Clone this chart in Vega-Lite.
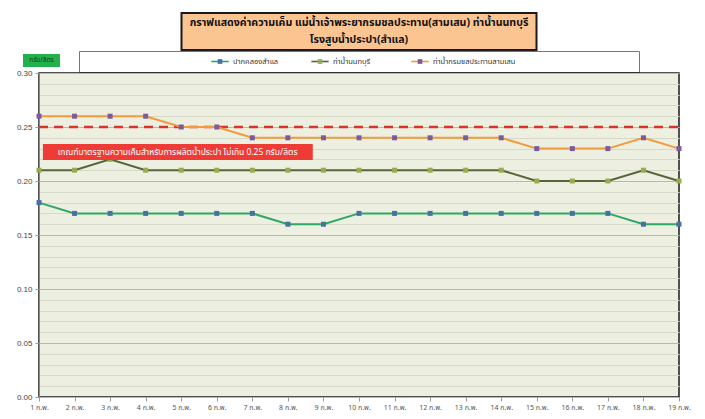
{
  "$schema": "https://vega.github.io/schema/vega-lite/v6.json",
  "background": "white",
  "padding": {"left": 15, "top": 12, "right": 5, "bottom": 5},
  "config": {
    "font": "Noto Sans Thai, Noto Sans Thai UI, Loma, Garuda, Norasi, Waree, Tlwg Typo, Sawasdee, Noto Sans, sans-serif",
    "concat": {"spacing": 1}
  },
  "datasets": {
    "main": [
      {"day": 1, "series": "ปากคลองสำแล", "v": 0.18},
      {"day": 2, "series": "ปากคลองสำแล", "v": 0.17},
      {"day": 3, "series": "ปากคลองสำแล", "v": 0.17},
      {"day": 4, "series": "ปากคลองสำแล", "v": 0.17},
      {"day": 5, "series": "ปากคลองสำแล", "v": 0.17},
      {"day": 6, "series": "ปากคลองสำแล", "v": 0.17},
      {"day": 7, "series": "ปากคลองสำแล", "v": 0.17},
      {"day": 8, "series": "ปากคลองสำแล", "v": 0.16},
      {"day": 9, "series": "ปากคลองสำแล", "v": 0.16},
      {"day": 10, "series": "ปากคลองสำแล", "v": 0.17},
      {"day": 11, "series": "ปากคลองสำแล", "v": 0.17},
      {"day": 12, "series": "ปากคลองสำแล", "v": 0.17},
      {"day": 13, "series": "ปากคลองสำแล", "v": 0.17},
      {"day": 14, "series": "ปากคลองสำแล", "v": 0.17},
      {"day": 15, "series": "ปากคลองสำแล", "v": 0.17},
      {"day": 16, "series": "ปากคลองสำแล", "v": 0.17},
      {"day": 17, "series": "ปากคลองสำแล", "v": 0.17},
      {"day": 18, "series": "ปากคลองสำแล", "v": 0.16},
      {"day": 19, "series": "ปากคลองสำแล", "v": 0.16},
      {"day": 1, "series": "ท่าน้ำนนทบุรี", "v": 0.21},
      {"day": 2, "series": "ท่าน้ำนนทบุรี", "v": 0.21},
      {"day": 3, "series": "ท่าน้ำนนทบุรี", "v": 0.22},
      {"day": 4, "series": "ท่าน้ำนนทบุรี", "v": 0.21},
      {"day": 5, "series": "ท่าน้ำนนทบุรี", "v": 0.21},
      {"day": 6, "series": "ท่าน้ำนนทบุรี", "v": 0.21},
      {"day": 7, "series": "ท่าน้ำนนทบุรี", "v": 0.21},
      {"day": 8, "series": "ท่าน้ำนนทบุรี", "v": 0.21},
      {"day": 9, "series": "ท่าน้ำนนทบุรี", "v": 0.21},
      {"day": 10, "series": "ท่าน้ำนนทบุรี", "v": 0.21},
      {"day": 11, "series": "ท่าน้ำนนทบุรี", "v": 0.21},
      {"day": 12, "series": "ท่าน้ำนนทบุรี", "v": 0.21},
      {"day": 13, "series": "ท่าน้ำนนทบุรี", "v": 0.21},
      {"day": 14, "series": "ท่าน้ำนนทบุรี", "v": 0.21},
      {"day": 15, "series": "ท่าน้ำนนทบุรี", "v": 0.20},
      {"day": 16, "series": "ท่าน้ำนนทบุรี", "v": 0.20},
      {"day": 17, "series": "ท่าน้ำนนทบุรี", "v": 0.20},
      {"day": 18, "series": "ท่าน้ำนนทบุรี", "v": 0.21},
      {"day": 19, "series": "ท่าน้ำนนทบุรี", "v": 0.20},
      {"day": 1, "series": "ท่าน้ำกรมชลประทานสามเสน", "v": 0.26},
      {"day": 2, "series": "ท่าน้ำกรมชลประทานสามเสน", "v": 0.26},
      {"day": 3, "series": "ท่าน้ำกรมชลประทานสามเสน", "v": 0.26},
      {"day": 4, "series": "ท่าน้ำกรมชลประทานสามเสน", "v": 0.26},
      {"day": 5, "series": "ท่าน้ำกรมชลประทานสามเสน", "v": 0.25},
      {"day": 6, "series": "ท่าน้ำกรมชลประทานสามเสน", "v": 0.25},
      {"day": 7, "series": "ท่าน้ำกรมชลประทานสามเสน", "v": 0.24},
      {"day": 8, "series": "ท่าน้ำกรมชลประทานสามเสน", "v": 0.24},
      {"day": 9, "series": "ท่าน้ำกรมชลประทานสามเสน", "v": 0.24},
      {"day": 10, "series": "ท่าน้ำกรมชลประทานสามเสน", "v": 0.24},
      {"day": 11, "series": "ท่าน้ำกรมชลประทานสามเสน", "v": 0.24},
      {"day": 12, "series": "ท่าน้ำกรมชลประทานสามเสน", "v": 0.24},
      {"day": 13, "series": "ท่าน้ำกรมชลประทานสามเสน", "v": 0.24},
      {"day": 14, "series": "ท่าน้ำกรมชลประทานสามเสน", "v": 0.24},
      {"day": 15, "series": "ท่าน้ำกรมชลประทานสามเสน", "v": 0.23},
      {"day": 16, "series": "ท่าน้ำกรมชลประทานสามเสน", "v": 0.23},
      {"day": 17, "series": "ท่าน้ำกรมชลประทานสามเสน", "v": 0.23},
      {"day": 18, "series": "ท่าน้ำกรมชลประทานสามเสน", "v": 0.24},
      {"day": 19, "series": "ท่าน้ำกรมชลประทานสามเสน", "v": 0.23}
    ],
    "legend": [
      {"series": "ปากคลองสำแล"},
      {"series": "ท่าน้ำนนทบุรี"},
      {"series": "ท่าน้ำกรมชลประทานสามเสน"}
    ],
    "title": [
      {"line": 1, "t": "กราฟแสดงค่าความเค็ม แม่น้ำเจ้าพระยากรมชลประทาน(สามเสน) ท่าน้ำนนทบุรี"},
      {"line": 2, "t": "โรงสูบน้ำประปา(สำแล)"}
    ]
  },
  "vconcat": [
    {
      "width": 355,
      "height": 37,
      "view": {"fill": "#fbc592", "stroke": "#1a1a1a", "strokeWidth": 2},
      "data": {"name": "title"},
      "mark": {"type": "text", "fontSize": 10.6, "fontWeight": "bold", "color": "#111", "baseline": "middle", "align": "center"},
      "encoding": {
        "y": {"field": "line", "type": "ordinal", "axis": null, "scale": {"type": "point", "padding": 0.62}},
        "text": {"field": "t", "type": "nominal"}
      }
    },
    {
      "width": 560,
      "height": 21,
      "view": {"fill": "white", "stroke": "#777", "strokeWidth": 1},
      "data": {"name": "legend"},
      "layer": [
        {
          "mark": {"type": "point", "shape": "M-1,0H1", "filled": false, "strokeWidth": 1.6, "size": 300, "opacity": 1},
          "encoding": {
            "x": {"field": "series", "type": "nominal", "sort": ["ปากคลองสำแล", "ท่าน้ำนนทบุรี", "ท่าน้ำกรมชลประทานสามเสน"], "scale": {"type": "point", "range": [91, 391]}, "axis": null},
            "stroke": {"field": "series", "type": "nominal", "scale": {"domain": ["ปากคลองสำแล", "ท่าน้ำนนทบุรี", "ท่าน้ำกรมชลประทานสามเสน"], "range": ["#2fa866", "#56663a", "#f39a3c"]}, "legend": null}
          }
        },
        {
          "mark": {"type": "point", "shape": "square", "filled": true, "size": 22, "opacity": 1},
          "encoding": {
            "x": {"field": "series", "type": "nominal", "sort": ["ปากคลองสำแล", "ท่าน้ำนนทบุรี", "ท่าน้ำกรมชลประทานสามเสน"], "scale": {"type": "point", "range": [91, 391]}, "axis": null},
            "fill": {"field": "series", "type": "nominal", "scale": {"domain": ["ปากคลองสำแล", "ท่าน้ำนนทบุรี", "ท่าน้ำกรมชลประทานสามเสน"], "range": ["#4a6fa5", "#93ad4f", "#7a5c9e"]}, "legend": null}
          }
        },
        {
          "mark": {"type": "text", "align": "left", "dx": 13, "fontSize": 7.5, "color": "#333", "baseline": "middle"},
          "encoding": {
            "x": {"field": "series", "type": "nominal", "sort": ["ปากคลองสำแล", "ท่าน้ำนนทบุรี", "ท่าน้ำกรมชลประทานสามเสน"], "scale": {"type": "point", "range": [91, 391]}, "axis": null},
            "text": {"field": "series", "type": "nominal"}
          }
        }
      ]
    },
    {
      "width": 640,
      "height": 324,
      "view": {"fill": "#edefe0", "stroke": "#1a1a1a", "strokeWidth": 1.5},
      "data": {"name": "main"},
      "encoding": {
        "x": {
          "field": "day", "type": "quantitative",
          "scale": {"domain": [1, 19], "nice": false, "zero": false},
          "axis": {
            "title": null, "values": [1,2,3,4,5,6,7,8,9,10,11,12,13,14,15,16,17,18,19],
            "labelExpr": "datum.value + ' ก.พ.'", "grid": false, "domain": false,
            "ticks": true, "tickSize": 4, "tickColor": "#999",
            "labelFontSize": 7, "labelColor": "#555", "labelPadding": 2, "labelFlush": false, "labelOverlap": false
          }
        },
        "y": {
          "field": "v", "type": "quantitative",
          "scale": {"domain": [0, 0.3], "nice": false, "zero": true},
          "axis": {
            "title": null,
            "values": [0,0.01,0.02,0.03,0.04,0.05,0.06,0.07,0.08,0.09,0.1,0.11,0.12,0.13,0.14,0.15,0.16,0.17,0.18,0.19,0.2,0.21,0.22,0.23,0.24,0.25,0.26,0.27,0.28,0.29,0.3],
            "labelExpr": "round(datum.value*100) % 5 == 0 ? format(datum.value, '.2f') : ''",
            "labelFontSize": 8, "labelColor": "#444", "labelPadding": 3, "labelFont": "Liberation Sans",
            "domain": true, "domainColor": "#888",
            "tickSize": 4,
            "tickColor": {"condition": {"test": "round(datum.value*100) % 5 == 0", "value": "#999"}, "value": "transparent"},
            "grid": true,
            "gridColor": {"condition": {"test": "round(datum.value*100) % 5 == 0", "value": "#b8bba9"}, "value": "#d6d9c8"},
            "gridWidth": 1, "gridOpacity": 1
          }
        }
      },
      "layer": [
        {
          "transform": [{"filter": "datum.day == 1 && datum.series == 'ปากคลองสำแล'"}],
          "mark": {"type": "rule", "strokeDash": [9, 6], "strokeWidth": 2.5, "color": "#d9342b"},
          "encoding": {"x": {"datum": 1}, "x2": {"datum": 19}, "y": {"datum": 0.25}}
        },
        {
          "mark": {"type": "line", "strokeWidth": 2},
          "encoding": {
            "detail": {"field": "series"},
            "stroke": {"field": "series", "type": "nominal", "scale": {"domain": ["ปากคลองสำแล", "ท่าน้ำนนทบุรี", "ท่าน้ำกรมชลประทานสามเสน"], "range": ["#2fa866", "#56663a", "#f39a3c"]}, "legend": null}
          }
        },
        {
          "mark": {"type": "point", "shape": "square", "filled": true, "size": 25, "opacity": 1},
          "encoding": {
            "fill": {"field": "series", "type": "nominal", "scale": {"domain": ["ปากคลองสำแล", "ท่าน้ำนนทบุรี", "ท่าน้ำกรมชลประทานสามเสน"], "range": ["#4a6fa5", "#93ad4f", "#7a5c9e"]}, "legend": null}
          }
        },
        {
          "transform": [{"filter": "datum.day == 1 && datum.series == 'ปากคลองสำแล'"}],
          "mark": {"type": "rect", "color": "#ee3b35"},
          "encoding": {"x": {"datum": 1.11}, "x2": {"datum": 8.7}, "y": {"datum": 0.2194}, "y2": {"datum": 0.2343}}
        },
        {
          "transform": [{"filter": "datum.day == 1 && datum.series == 'ปากคลองสำแล'"}],
          "mark": {"type": "text", "text": "เกณฑ์มาตรฐานความเค็มสำหรับการผลิตน้ำประปา ไม่เกิน 0.25 กรัม/ลิตร", "color": "white", "fontSize": 8.5, "align": "center", "baseline": "middle"},
          "encoding": {"x": {"datum": 4.9}, "y": {"datum": 0.2268}}
        },
        {
          "transform": [{"filter": "datum.day == 1 && datum.series == 'ปากคลองสำแล'"}],
          "mark": {"type": "rect", "color": "#22b14c"},
          "encoding": {"x": {"datum": 0.55}, "x2": {"datum": 1.59}, "y": {"datum": 0.3056}, "y2": {"datum": 0.3176}}
        },
        {
          "transform": [{"filter": "datum.day == 1 && datum.series == 'ปากคลองสำแล'"}],
          "mark": {"type": "text", "text": "กรัม/ลิตร", "color": "#1a3a1a", "fontSize": 6.5, "align": "center", "baseline": "middle"},
          "encoding": {"x": {"datum": 1.07}, "y": {"datum": 0.3116}}
        }
      ]
    }
  ],
  "center": true,
  "bounds": "flush"
}
